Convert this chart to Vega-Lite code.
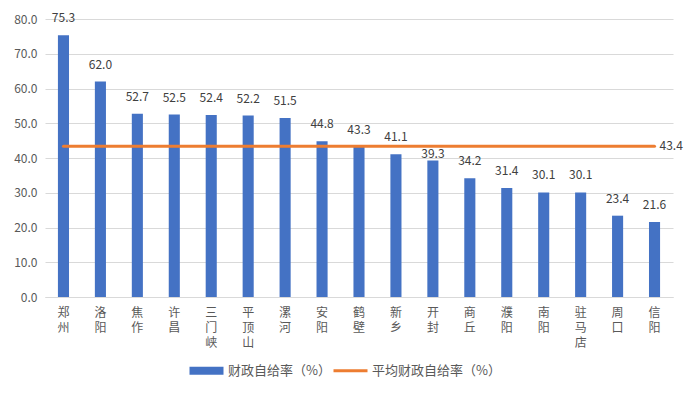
{
  "$schema": "https://vega.github.io/schema/vega-lite/v6.json",
  "width": 628,
  "height": 278,
  "autosize": {"type": "none"},
  "padding": {"left": 45, "top": 19, "right": 19, "bottom": 97},
  "background": "white",
  "config": {
    "font": "Noto Sans CJK SC",
    "view": {"stroke": null},
    "axis": {"labelFont": "Noto Sans CJK SC", "labelColor": "#595959", "labelFontSize": 12}
  },
  "data": {
    "values": [
      {"city": "郑州", "rate": 75.3, "avg": 43.4},
      {"city": "洛阳", "rate": 62.0, "avg": 43.4},
      {"city": "焦作", "rate": 52.7, "avg": 43.4},
      {"city": "许昌", "rate": 52.5, "avg": 43.4},
      {"city": "三门峡", "rate": 52.4, "avg": 43.4},
      {"city": "平顶山", "rate": 52.2, "avg": 43.4},
      {"city": "漯河", "rate": 51.5, "avg": 43.4},
      {"city": "安阳", "rate": 44.8, "avg": 43.4},
      {"city": "鹤壁", "rate": 43.3, "avg": 43.4},
      {"city": "新乡", "rate": 41.1, "avg": 43.4},
      {"city": "开封", "rate": 39.3, "avg": 43.4},
      {"city": "商丘", "rate": 34.2, "avg": 43.4},
      {"city": "濮阳", "rate": 31.4, "avg": 43.4},
      {"city": "南阳", "rate": 30.1, "avg": 43.4},
      {"city": "驻马店", "rate": 30.1, "avg": 43.4},
      {"city": "周口", "rate": 23.4, "avg": 43.4},
      {"city": "信阳", "rate": 21.6, "avg": 43.4}
    ]
  },
  "encoding": {
    "x": {
      "field": "city",
      "type": "nominal",
      "sort": null,
      "title": null,
      "scale": {"paddingInner": 0.7, "paddingOuter": 0.35},
      "axis": {
        "labelAngle": 0,
        "labelExpr": "split(datum.label, '')",
        "labelLineHeight": 15,
        "labelBaseline": "top",
        "labelPadding": 10,
        "labelOverlap": false,
        "ticks": false,
        "domainColor": "#D9D9D9",
        "grid": false
      }
    }
  },
  "layer": [
    {
      "mark": {"type": "bar", "color": "#4472C4"},
      "encoding": {
        "y": {
          "field": "rate",
          "type": "quantitative",
          "title": null,
          "scale": {"domain": [0, 80]},
          "axis": {
            "values": [0, 10, 20, 30, 40, 50, 60, 70, 80],
            "format": ".1f",
            "domain": false,
            "ticks": false,
            "labelOverlap": false,
            "gridColor": "#D9D9D9",
            "labelPadding": 8
          }
        },
        "color": {
          "datum": "财政自给率（%）",
          "type": "nominal",
          "scale": {"domain": ["财政自给率（%）", "平均财政自给率（%）"], "range": ["#4472C4", "#ED7D31"]},
          "legend": {
            "title": null,
            "orient": "none",
            "legendX": 155,
            "legendY": 345,
            "direction": "horizontal",
            "labelFont": "Noto Sans CJK SC",
            "labelFontSize": 13,
            "labelColor": "#595959",
            "symbolSize": 1156,
            "columnPadding": -4,
            "labelOffset": 15,
            "encode": {
              "symbols": {
                "update": {
                  "shape": {"signal": "datum.label == '平均财政自给率（%）' ? 'stroke' : 'M-1,-0.235H1V0.235H-1Z'"},
                  "stroke": {"signal": "scale('color', datum.value)"},
                  "strokeWidth": {"signal": "datum.label == '平均财政自给率（%）' ? 3 : 0"},
                  "fill": {"signal": "scale('color', datum.value)"},
                  "opacity": {"value": 1},
                  "fillOpacity": {"value": 1}
                }
              }
            }
          }
        }
      }
    },
    {
      "transform": [{"filter": "datum.city != '开封'"}],
      "mark": {"type": "text", "baseline": "middle", "dy": -17, "fontSize": 12, "color": "#404040"},
      "encoding": {
        "y": {"field": "rate", "type": "quantitative", "axis": {"values": [0, 10, 20, 30, 40, 50, 60, 70, 80], "format": ".1f", "domain": false, "ticks": false, "labelOverlap": false, "gridColor": "#D9D9D9", "labelPadding": 8}},
        "text": {"field": "rate", "type": "quantitative", "format": ".1f"}
      }
    },
    {
      "transform": [{"filter": "datum.city == '开封'"}],
      "mark": {"type": "text", "baseline": "middle", "dy": -6, "fontSize": 12, "color": "#404040"},
      "encoding": {
        "y": {"field": "rate", "type": "quantitative", "axis": {"values": [0, 10, 20, 30, 40, 50, 60, 70, 80], "format": ".1f", "domain": false, "ticks": false, "labelOverlap": false, "gridColor": "#D9D9D9", "labelPadding": 8}},
        "text": {"field": "rate", "type": "quantitative", "format": ".1f"}
      }
    },
    {
      "mark": {"type": "line", "color": "#ED7D31", "strokeWidth": 3, "strokeCap": "round"},
      "encoding": {
        "y": {"field": "avg", "type": "quantitative", "axis": {"values": [0, 10, 20, 30, 40, 50, 60, 70, 80], "format": ".1f", "domain": false, "ticks": false, "labelOverlap": false, "gridColor": "#D9D9D9", "labelPadding": 8}},
        "color": {"datum": "平均财政自给率（%）", "type": "nominal"}
      }
    },
    {
      "transform": [{"filter": "datum.city == '信阳'"}],
      "mark": {"type": "text", "align": "left", "baseline": "middle", "dx": 5, "fontSize": 12, "color": "#404040"},
      "encoding": {
        "y": {"field": "avg", "type": "quantitative", "axis": {"values": [0, 10, 20, 30, 40, 50, 60, 70, 80], "format": ".1f", "domain": false, "ticks": false, "labelOverlap": false, "gridColor": "#D9D9D9", "labelPadding": 8}},
        "text": {"field": "avg", "type": "quantitative", "format": ".1f"}
      }
    }
  ]
}
